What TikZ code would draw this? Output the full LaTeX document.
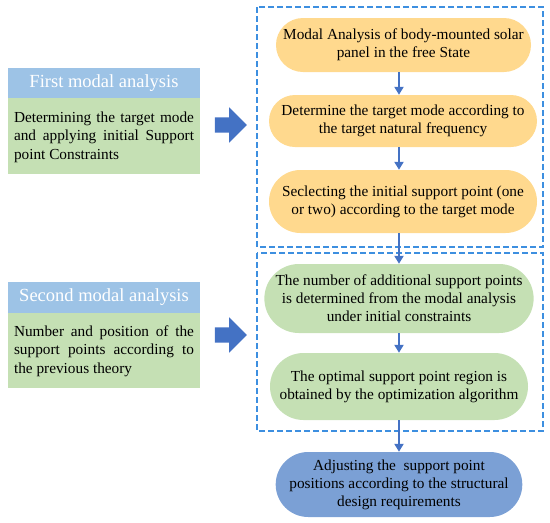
\documentclass[tikz,border=0pt]{standalone}
\usepackage{fontspec}
\setmainfont{Liberation Serif}
\usetikzlibrary{shapes.misc, shapes.arrows, arrows.meta}

\definecolor{headblue}{HTML}{9DC3E6}
\definecolor{bodygreen}{HTML}{C5E0B4}
\definecolor{pillyellow}{HTML}{FFD98E}
\definecolor{pillgreen}{HTML}{C5E0B4}
\definecolor{pillblue}{HTML}{7BA0D5}
\definecolor{arrowblue}{HTML}{4472C4}
\definecolor{dashblue}{HTML}{3D8FE0}

\tikzset{
    pill/.style={rounded rectangle, align=center, inner sep=2pt, font=\fontsize{15.3}{18}\selectfont},
    flow/.style={-{Triangle[length=8pt, width=9pt]}, line width=2pt, arrowblue},
    bigarrow/.style={single arrow, fill=arrowblue, minimum height=32pt, inner sep=7.5pt,
        single arrow head extend=10pt},
    frame/.style={dashblue, line width=1.3pt, dash pattern=on 6pt off 3pt}
}

\begin{document}
\begin{tikzpicture}[x=1pt, y=-1pt]
            \useasboundingbox (0,0) rectangle (550,523);

                % Left boxes:
                \fill[headblue] (8,68) rectangle (200,98);
                \fill[bodygreen] (8,98) rectangle (200,174);
                \node[text=white, font=\fontsize{18.5}{20}\selectfont] (firsthead) at (104,83) {First modal analysis};
                \node[text width=180pt, align=justify, inner sep=0pt, font=\fontsize{15.3}{18.5}\selectfont] (firstbody) at (104,137)
                    {Determining the target mode and applying initial Support point Constraints};

                \fill[headblue] (8,282) rectangle (200,313);
                \fill[bodygreen] (8,313) rectangle (200,388);
                \node[text=white, font=\fontsize{18.5}{20}\selectfont] (secondhead) at (104,297.5) {Second modal analysis};
                \node[text width=180pt, align=justify, inner sep=0pt, font=\fontsize{15.3}{18.5}\selectfont] (secondbody) at (104,351)
                    {Number and position of the support points according to the previous theory};

                % Big arrows:
                \node[bigarrow] (arrowone) at (227,125) {};
                \node[bigarrow] (arrowtwo) at (227,335) {};

                % Dashed frames:
                \draw[frame] (257,7) rectangle (543,247);
                \draw[frame] (257,253) rectangle (543,431);

                % Flow:
                \node[pill, fill=pillyellow, minimum width=253pt, minimum height=54pt] (free) at (403.5,45)
                    {Modal Analysis of body-mounted solar\\panel in the free State};
                \node[pill, fill=pillyellow, minimum width=272pt, minimum height=52pt] (target) at (403,121)
                    {Determine the target mode according to\\the target natural frequency};
                \node[pill, fill=pillyellow, minimum width=272pt, minimum height=63pt] (initial) at (403,201.5)
                    {Seclecting the initial support point (one\\or two) according to the target mode};
                \node[pill, fill=pillgreen, minimum width=262pt, minimum height=69pt] (number) at (399,298.5)
                    {The number of additional support points\\is determined from the modal analysis\\under initial constraints};
                \node[pill, fill=pillgreen, minimum width=262pt, minimum height=67pt] (region) at (399,386.5)
                    {The optimal support point region is\\obtained by the optimization algorithm};
                \node[pill, fill=pillblue, minimum width=226pt, minimum height=65pt] (adjust) at (399,484.5)
                    {Adjusting the \ support point\\positions according to the structural\\design requirements};

                \draw[flow] (free.south -| 399,0) -- (target.north -| 399,0);
                \draw[flow] (target.south -| 399,0) -- (initial.north -| 399,0);
                \draw[flow] (initial.south -| 399,0) -- (number.north);
                \draw[flow] (number.south) -- (region.north);
                \draw[flow] (region.south) -- (adjust.north);
            \end{tikzpicture}
\end{document}
